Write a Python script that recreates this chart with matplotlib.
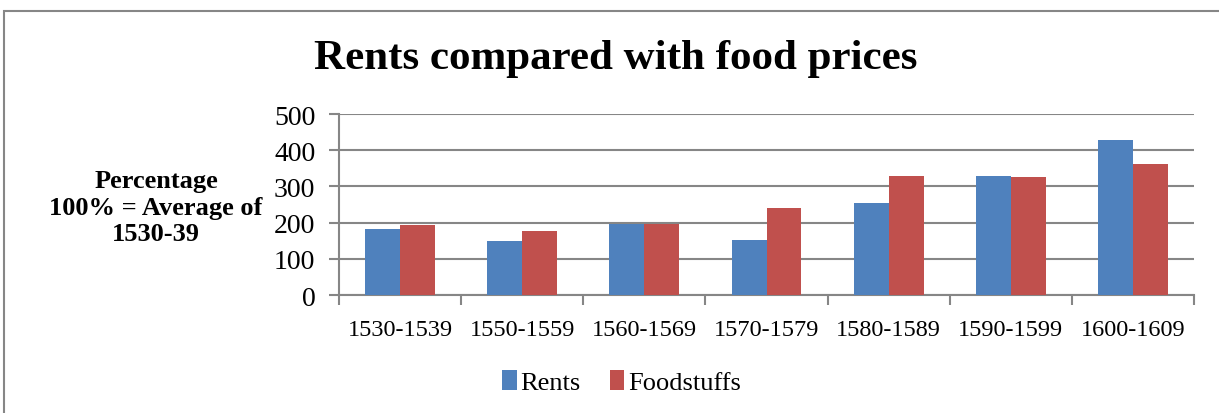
import numpy as np
import matplotlib
matplotlib.use("Agg")
import matplotlib.pyplot as plt
from matplotlib.patches import Rectangle

# --- Data (index, 100 = average of 1530-39) ---
periods = ["1530-1539", "1550-1559", "1560-1569", "1570-1579",
           "1580-1589", "1590-1599", "1600-1609"]
rents = [181, 150, 195, 153, 253, 328, 428]
foodstuffs = [193, 178, 195, 240, 328, 327, 362]

BLUE = "#4f81bd"
RED = "#c0504d"
GRID = "#868686"

plt.rcParams["font.family"] = ["Liberation Serif", "DejaVu Serif"]

fig = plt.figure(figsize=(12.19, 4.14), dpi=100)
ax = fig.add_axes([0.2781, 0.285, 0.7014, 0.4372])

x = np.arange(len(periods))
w = 1 / 3.5
ax.bar(x - w / 2, rents, w, color=BLUE, label="Rents", zorder=3)
ax.bar(x + w / 2, foodstuffs, w, color=RED, label="Foodstuffs", zorder=3)

ax.set_xlim(-0.5, len(periods) - 0.5)
ax.set_ylim(0, 500)
ax.set_yticks(range(0, 501, 100))
ax.yaxis.grid(True, color=GRID, linewidth=1.5, zorder=0)
ax.set_axisbelow(True)

# category labels centred, tick marks on boundaries
ax.set_xticks(x)
ax.set_xticklabels(periods, fontsize=17.5)
ax.tick_params(axis="x", length=0, pad=17)
ax.set_xticks(np.arange(-0.5, len(periods)), minor=True)
ax.tick_params(axis="x", which="minor", length=7, width=1.5, color=GRID)
ax.tick_params(axis="y", labelsize=20, length=7, width=1.5, color=GRID, pad=10)

for side in ["top", "right"]:
    ax.spines[side].set_visible(False)
for side in ["left", "bottom"]:
    ax.spines[side].set_color(GRID)
    ax.spines[side].set_linewidth(1.5)

fig.text(0.505, 0.858, "Rents compared with food prices", ha="center", va="center",
         fontsize=31, fontweight="bold")
fig.text(0.128, 0.497, "Percentage\n100% = Average of\n1530-39", ha="center", va="center",
         fontsize=19, fontweight="bold", linespacing=1.2)

fig.legend(loc="center", bbox_to_anchor=(0.51, 0.075), ncol=2, frameon=False,
           fontsize=19, handlelength=0.55, handleheight=0.8, handletextpad=0.15,
           columnspacing=1.1)

# outer chart border
fig.patches.append(Rectangle((0.003, -0.01), 1.2, 0.982, transform=fig.transFigure,
                             fill=False, edgecolor=GRID, linewidth=1.5))

fig.savefig("out.png", dpi=100)
